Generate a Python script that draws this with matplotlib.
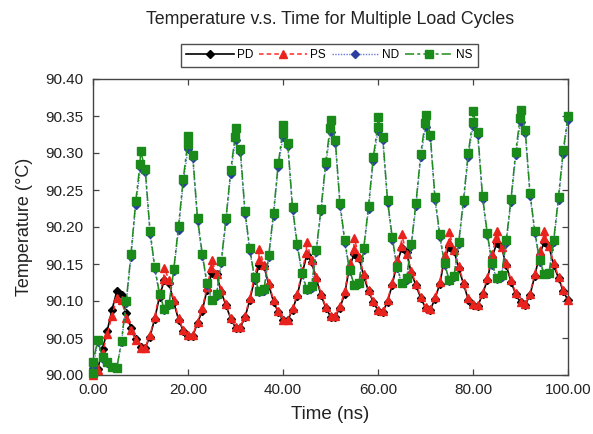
import numpy as np
import matplotlib
matplotlib.use("Agg")
import matplotlib.pyplot as plt

plt.rcParams['font.family'] = ['Liberation Sans', 'DejaVu Sans']

# ---------------- data ----------------
time_ns = list(range(101))

ns_temp = [90.018, 90.047, 90.024, 90.017, 90.011, 90.009, 90.046, 90.100, 90.164, 90.235,
           90.303, 90.278, 90.195, 90.146, 90.110, 90.089, 90.096, 90.143, 90.201, 90.265,
           90.323, 90.297, 90.212, 90.164, 90.124, 90.102, 90.109, 90.154, 90.212, 90.277,
           90.334, 90.306, 90.221, 90.171, 90.132, 90.113, 90.116, 90.162, 90.219, 90.286,
           90.338, 90.314, 90.227, 90.177, 90.138, 90.116, 90.120, 90.169, 90.225, 90.288,
           90.345, 90.318, 90.232, 90.182, 90.142, 90.122, 90.125, 90.172, 90.228, 90.294,
           90.349, 90.322, 90.237, 90.186, 90.146, 90.125, 90.131, 90.177, 90.233, 90.299,
           90.351, 90.325, 90.240, 90.190, 90.151, 90.128, 90.134, 90.180, 90.237, 90.300,
           90.357, 90.328, 90.242, 90.192, 90.151, 90.131, 90.135, 90.182, 90.238, 90.302,
           90.358, 90.331, 90.246, 90.195, 90.155, 90.137, 90.138, 90.183, 90.241, 90.304,
           90.350]
# extra samples at the load switching instants (peaks)
ns_extra_t = [0.0, 9.9, 19.9, 29.9, 39.9, 49.9, 59.9, 69.9, 79.9, 89.9]
ns_extra_v = [90.003, 90.285, 90.312, 90.322, 90.327, 90.334, 90.335, 90.340, 90.342, 90.347]

nd_temp = [90.010, 90.045, 90.022, 90.016, 90.011, 90.009, 90.044, 90.097, 90.160, 90.230,
           90.280, 90.274, 90.191, 90.143, 90.108, 90.088, 90.094, 90.140, 90.196, 90.260,
           90.306, 90.293, 90.208, 90.161, 90.122, 90.101, 90.107, 90.151, 90.208, 90.272,
           90.317, 90.302, 90.217, 90.168, 90.130, 90.112, 90.114, 90.159, 90.215, 90.281,
           90.322, 90.310, 90.223, 90.174, 90.136, 90.115, 90.118, 90.166, 90.221, 90.283,
           90.329, 90.314, 90.228, 90.179, 90.140, 90.121, 90.123, 90.169, 90.224, 90.289,
           90.330, 90.318, 90.233, 90.183, 90.144, 90.124, 90.129, 90.174, 90.229, 90.294,
           90.335, 90.321, 90.236, 90.187, 90.149, 90.127, 90.132, 90.177, 90.233, 90.295,
           90.337, 90.324, 90.238, 90.189, 90.149, 90.130, 90.133, 90.179, 90.234, 90.297,
           90.342, 90.327, 90.242, 90.192, 90.153, 90.136, 90.136, 90.180, 90.237, 90.299,
           90.345]

ps_temp = [90.000, 90.007, 90.030, 90.055, 90.080, 90.104, 90.101, 90.077, 90.061, 90.047,
           90.037, 90.037, 90.054, 90.079, 90.110, 90.145, 90.128, 90.101, 90.077, 90.061,
           90.054, 90.054, 90.072, 90.090, 90.119, 90.155, 90.137, 90.115, 90.096, 90.077,
           90.065, 90.065, 90.080, 90.104, 90.133, 90.170, 90.149, 90.125, 90.101, 90.086,
           90.075, 90.075, 90.090, 90.110, 90.140, 90.180, 90.155, 90.133, 90.110, 90.092,
           90.080, 90.080, 90.093, 90.113, 90.151, 90.185, 90.160, 90.137, 90.115, 90.100,
           90.088, 90.086, 90.101, 90.125, 90.156, 90.190, 90.164, 90.141, 90.123, 90.106,
           90.092, 90.089, 90.105, 90.126, 90.162, 90.193, 90.169, 90.147, 90.125, 90.104,
           90.096, 90.094, 90.111, 90.131, 90.164, 90.195, 90.173, 90.151, 90.128, 90.111,
           90.099, 90.096, 90.110, 90.137, 90.167, 90.195, 90.174, 90.151, 90.133, 90.115,
           90.102]
ps_extra_t = [14.9, 24.9, 34.9, 44.9, 54.9, 64.9, 74.9, 84.9, 94.9]
ps_extra_v = [90.130, 90.145, 90.155, 90.165, 90.170, 90.175, 90.180, 90.185, 90.185]

pd_temp = [90.000, 90.008, 90.035, 90.060, 90.088, 90.113, 90.108, 90.084, 90.064, 90.048,
           90.038, 90.037, 90.052, 90.076, 90.106, 90.128, 90.125, 90.098, 90.075, 90.060,
           90.053, 90.053, 90.070, 90.087, 90.115, 90.138, 90.136, 90.112, 90.094, 90.076,
           90.064, 90.064, 90.078, 90.101, 90.129, 90.148, 90.147, 90.122, 90.099, 90.085,
           90.074, 90.074, 90.088, 90.107, 90.136, 90.162, 90.153, 90.130, 90.108, 90.091,
           90.079, 90.079, 90.091, 90.110, 90.146, 90.164, 90.158, 90.134, 90.113, 90.099,
           90.087, 90.085, 90.099, 90.122, 90.151, 90.171, 90.166, 90.138, 90.121, 90.104,
           90.091, 90.088, 90.103, 90.123, 90.157, 90.173, 90.168, 90.144, 90.123, 90.102,
           90.095, 90.093, 90.109, 90.128, 90.159, 90.178, 90.173, 90.148, 90.126, 90.109,
           90.098, 90.095, 90.108, 90.134, 90.162, 90.180, 90.174, 90.148, 90.131, 90.113,
           90.101]

x_ticks = [0, 20, 40, 60, 80, 100]
y_ticks = [90.00, 90.05, 90.10, 90.15, 90.20, 90.25, 90.30, 90.35, 90.40]


def merge(t, v, et, ev):
    tt = np.array(list(et) + list(t), dtype=float)
    vv = np.array(list(ev) + list(v), dtype=float)
    order = np.argsort(tt, kind='stable')
    return tt[order], vv[order]


ns_t, ns_v = merge(time_ns, ns_temp, ns_extra_t, ns_extra_v)
ps_t, ps_v = merge(time_ns, ps_temp, ps_extra_t, ps_extra_v)

# ---------------- figure ----------------
W, H = 593, 434
fig = plt.figure(figsize=(W / 100, H / 100), dpi=100)
ax = fig.add_axes([93 / W, 1 - 375 / H, (568 - 93) / W, (375 - 79) / H])

l_pd, = ax.plot(time_ns, pd_temp, color='black', lw=1.2, ls='-', marker='D', ms=4.0,
                mfc='black', mec='black', clip_on=False, zorder=3)
l_ps, = ax.plot(ps_t, ps_v, color='#ff2a2a', lw=1.1, ls=(0, (3, 2)), marker='^', ms=6.3,
                mfc='#e8231e', mec='#e8231e', clip_on=False, zorder=4)
l_nd, = ax.plot(time_ns, nd_temp, color='#6a78d8', lw=1.0, ls=(0, (1, 1)), marker='D', ms=4.0,
                mfc='#2a3fa0', mec='#2a3fa0', clip_on=False, zorder=5)
l_ns, = ax.plot(ns_t, ns_v, color='#1e8c1e', lw=1.1, ls=(0, (6, 2, 2, 2)), marker='s', ms=5.4,
                mfc='#1a8a1a', mec='#1a8a1a', clip_on=False, zorder=6)

ax.set_xlim(0, 100)
ax.set_ylim(90.0, 90.4)
ax.set_xticks(x_ticks)
ax.set_xticklabels([f"{v:.2f}" for v in x_ticks])
ax.set_yticks(y_ticks)
ax.set_yticklabels([f"{v:.2f}" for v in y_ticks])

spine_col = '#444444'
for s in ax.spines.values():
    s.set_color(spine_col)
    s.set_linewidth(1.0)
ax.tick_params(direction='in', length=4, width=0.9, color=spine_col,
               top=True, right=True, labelsize=11, labelcolor='#222222')
ax.tick_params(axis='y', pad=7)
ax.tick_params(axis='x', pad=6)

ax.set_xlabel('Time (ns)', fontsize=13.5, color='#222222', labelpad=6)
ax.set_ylabel('Temperature (°C)', fontsize=13, color='#222222', labelpad=9)

fig.text(330.5 / W, 1 - 20 / H, 'Temperature v.s. Time for Multiple Load Cycles',
         ha='center', va='center', fontsize=12.8, color='#222222')

leg = fig.legend([l_pd, l_ps, l_nd, l_ns], ['PD', 'PS', 'ND', 'NS'], loc='center',
                 bbox_to_anchor=(329.5 / W, 1 - 55.5 / H), bbox_transform=fig.transFigure,
                 ncol=4, fontsize=8.5, numpoints=1, handlelength=4.0, handletextpad=0.3,
                 columnspacing=0.5, borderpad=0.45, fancybox=False, frameon=True)
leg.get_frame().set_edgecolor('#222222')
leg.get_frame().set_linewidth(1.0)

fig.savefig('out.png', dpi=100)
